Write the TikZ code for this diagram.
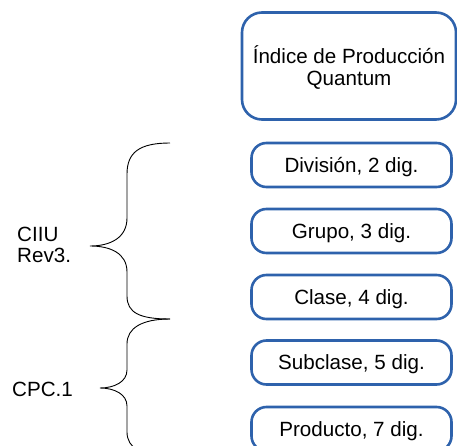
\documentclass[tikz,border=0pt]{standalone}
\usepackage{fontspec}
\setmainfont{Liberation Sans}
\definecolor{boxblue}{RGB}{46,98,172}
\begin{document}
\begin{tikzpicture}[x=1pt,y=-1pt,
  every node/.style={font=\fontsize{20.6}{22}\selectfont, inner sep=0pt},
  bigbox/.style={draw=boxblue, line width=2.6pt, rounded corners=20pt, minimum width=214pt, minimum height=107pt, align=center, text depth=0pt},
  levelbox/.style={draw=boxblue, line width=2.6pt, rounded corners=15pt, minimum width=200pt, minimum height=44pt, text depth=0pt},
  bracepath/.style={draw=black, line width=0.9pt},
  lbl/.style={align=left, anchor=west, font=\fontsize{20.6}{20.5}\selectfont}]
\useasboundingbox (0,0) rectangle (457,446);
\clip (0,0) rectangle (457,446);
\node[bigbox] (ipq) at (349,66) {Índice de Producción\\Quantum};
\node[levelbox] (div) at (351.5,165) {División, 2 dig.};
\node[levelbox] (gru) at (351.5,231) {Grupo, 3 dig.};
\node[levelbox] (cla) at (351.5,297) {Clase, 4 dig.};
\node[levelbox] (sub) at (351.5,362.5) {Subclase, 5 dig.};
\node[levelbox] (pro) at (351.5,429) {Producto, 7 dig.};
\node[lbl] (ciiu) at (17,245) {CIIU\\Rev3.};
\node[lbl] (cpc) at (12,389) {CPC.1};
% upper brace
\path[bracepath] (170,143) .. controls (140,143) and (127,152) .. (127,174)
  -- (127,218) .. controls (127,238) and (110,246) .. (90,246)
  .. controls (110,246) and (127,253) .. (127,272)
  -- (127,296) .. controls (127,313) and (140,319) .. (170,319);
% lower brace
\path[bracepath] (170,319) .. controls (142,319) and (127,328) .. (127,344)
  -- (127,370) .. controls (127,382) and (114,388) .. (100,388)
  .. controls (114,388) and (127,394) .. (127,406)
  -- (127,432) .. controls (127,448) and (142,457) .. (170,457);
\end{tikzpicture}
\end{document}
